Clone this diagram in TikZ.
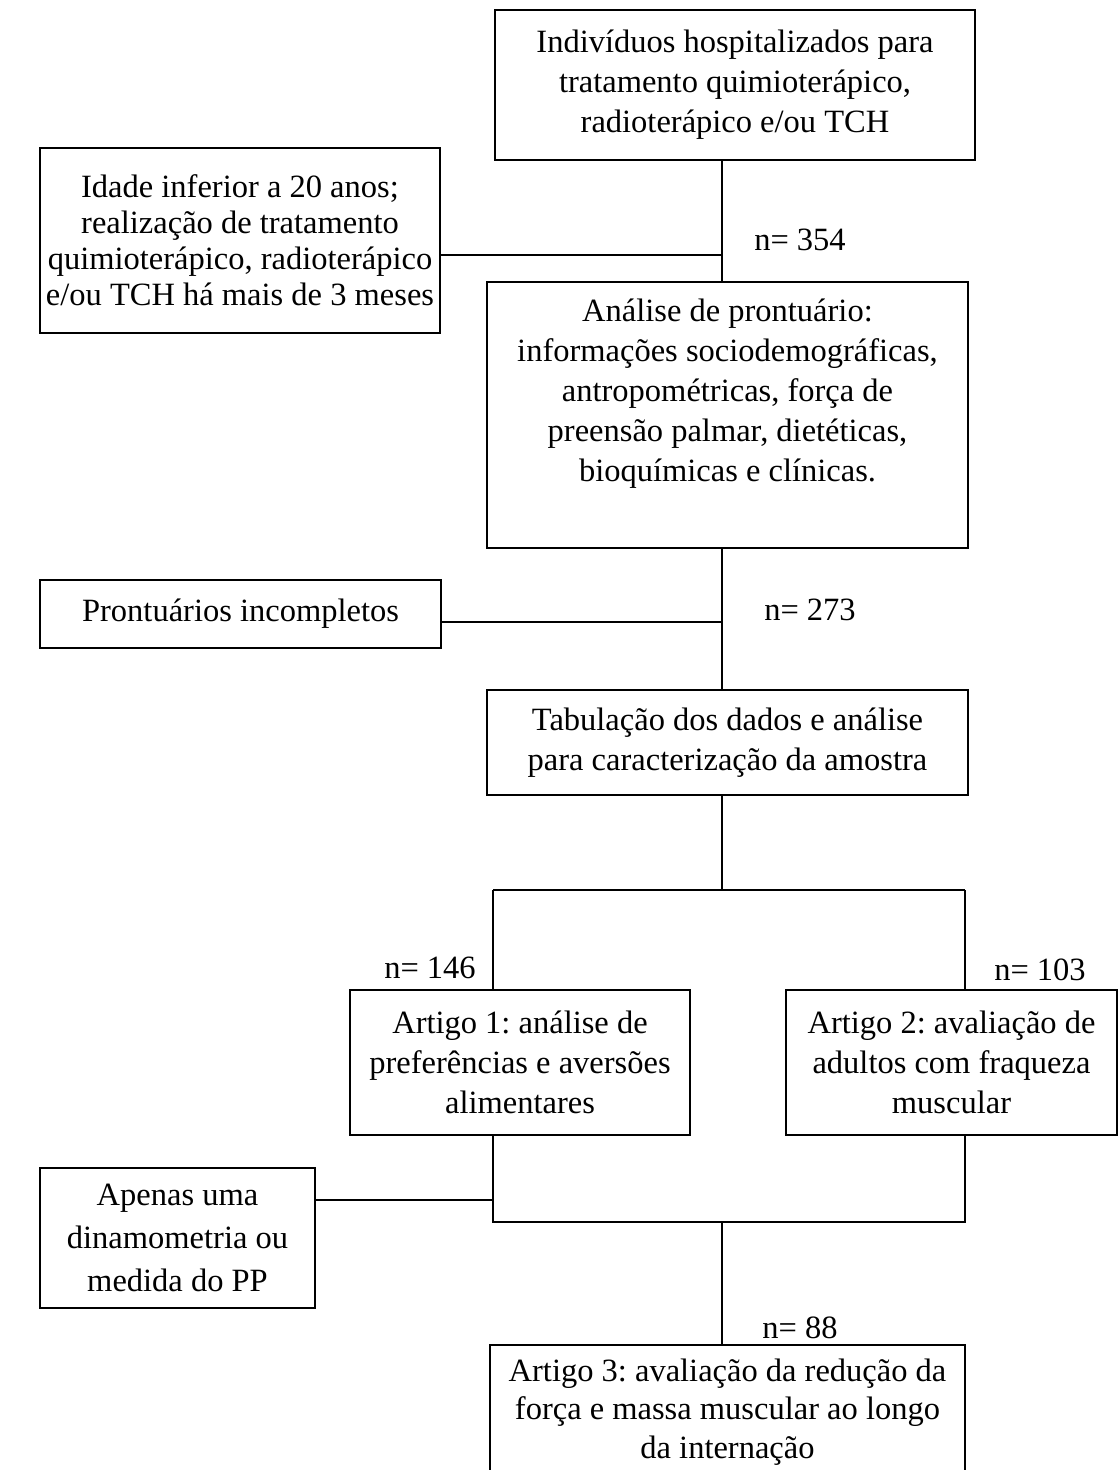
\documentclass[tikz,border=0pt]{standalone}
\usepackage{fontspec}
\setmainfont{Liberation Serif}
\usepackage{tikz}
\usetikzlibrary{positioning}
\tikzset{
    boxnode/.style = {draw, rectangle, line width=1.2pt, inner sep=0pt, align=center, font=\fontsize{32.5}{40}\selectfont},
    textnode/.style = {draw=none, fill=none, rectangle, inner sep=0pt, font=\fontsize{32.5}{40}\selectfont},
    connect/.style = {black, line width=1.5pt}
}
\frenchspacing

\begin{document}
\begin{tikzpicture}[x=1pt, y=-1pt]
\useasboundingbox (0,0) rectangle (1118,1470);
\clip (0,0) rectangle (1118,1470);

\node [boxnode, name=start, minimum width=480pt, minimum height=150pt] at (735,85) {Indivíduos hospitalizados para\\tratamento quimioterápico,\\radioterápico e/ou TCH};
\node [boxnode, name=excl1, minimum width=400pt, minimum height=185pt, font=\fontsize{32.5}{36}\selectfont] at (240,240.5) {Idade inferior a 20 anos;\\realização de tratamento\\quimioterápico, radioterápico\\e/ou TCH há mais de 3 meses};
\node [boxnode, name=review, minimum width=481pt, minimum height=266pt] at (727.5,415) {Análise de prontuário:\\informações sociodemográficas,\\antropométricas, força de\\preensão palmar, dietéticas,\\bioquímicas e clínicas.\\[10pt]};
\node [boxnode, name=excl2, minimum width=401pt, minimum height=68pt] at (240.5,614) {Prontuários incompletos};
\node [boxnode, name=tab, minimum width=481pt, minimum height=105pt] at (727.5,742.5) {Tabulação dos dados e análise\\para caracterização da amostra};
\node [boxnode, name=art1, minimum width=340pt, minimum height=145pt] at (520,1062.5) {Artigo 1: análise de\\preferências e aversões\\alimentares};
\node [boxnode, name=art2, minimum width=331pt, minimum height=145pt] at (951.5,1062.5) {Artigo 2: avaliação de\\adultos com fraqueza\\muscular};
\node [boxnode, name=excl3, minimum width=275pt, minimum height=140pt, font=\fontsize{32.5}{43}\selectfont] at (177.5,1238) {Apenas uma\\dinamometria ou\\medida do PP};
\node [boxnode, name=art3, minimum width=475pt, minimum height=134pt, font=\fontsize{32.5}{38.5}\selectfont] at (727.5,1412) {Artigo 3: avaliação da redução da\\força e massa muscular ao longo\\da internação};

% junctions on the trunk
\coordinate (j1) at (722,255);
\coordinate (j2) at (722,622);
\coordinate (j3) at (722,890);
\coordinate (j4) at (722,1222);
\coordinate (s1) at (493,890);
\coordinate (s2) at (965,890);
\coordinate (m1) at (493,1222);
\coordinate (m2) at (965,1222);

\draw [connect] (start.south -| j1) -- (review.north -| j1);
\draw [connect] (excl1.east |- j1) -- (j1);
\draw [connect] (review.south -| j2) -- (tab.north -| j2);
\draw [connect] (excl2.east |- j2) -- (j2);
\draw [connect] (tab.south -| j3) -- (j3);
\draw [connect] (s1) -- (s2);
\draw [connect] (s1) -- (art1.north -| s1);
\draw [connect] (s2) -- (art2.north -| s2);
\draw [connect] (art1.south -| m1) -- (m1) -- (m2) -- (art2.south -| m2);
\draw [connect] (excl3.east |- 0,1200) -- (0,1200 -| m1);
\draw [connect] (j4) -- (art3.north -| j4);

\node [textnode, name=n1] at (800,240) {n= 354};
\node [textnode, name=n2] at (810,610) {n= 273};
\node [textnode, name=n3] at (430,968) {n= 146};
\node [textnode, name=n4] at (1040,970) {n= 103};
\node [textnode, name=n5] at (800,1328) {n= 88};
\end{tikzpicture}
\end{document}
